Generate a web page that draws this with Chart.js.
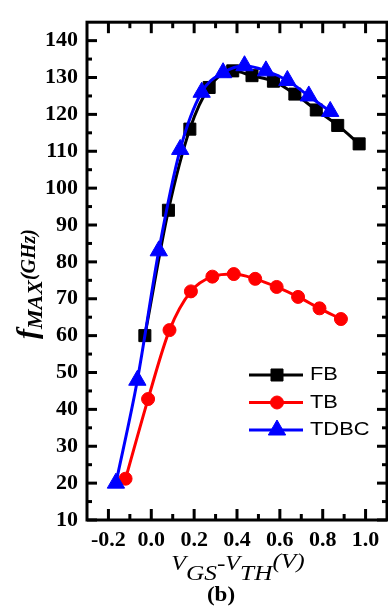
<!DOCTYPE html>
<html>
<head>
<meta charset="utf-8">
<script src="https://cdn.jsdelivr.net/npm/chart.js@4.4.1/dist/chart.umd.min.js"></script>
<style>
html, body { margin: 0; padding: 0; background: #fff; overflow: hidden; }
#wrap { position: relative; width: 398px; height: 607px; }
</style>
</head>
<body>
<div id="wrap"><canvas id="fmaxChart"></canvas></div>
<script>
// values
const seriesNames = ['FB', 'TB', 'TDBC'];
const fbX = [-0.03, 0.08, 0.18, 0.27, 0.38, 0.47, 0.57, 0.67, 0.77, 0.87, 0.97];
const fbY = [60, 94, 116, 127.3, 131.8, 130.5, 129, 125.5, 121.2, 117, 112];
const tbX = [-0.12, -0.015, 0.085, 0.185, 0.285, 0.385, 0.485, 0.585, 0.685, 0.785, 0.885];
const tbY = [21.2, 42.8, 61.5, 72, 76, 76.7, 75.4, 73.2, 70.5, 67.4, 64.5];
const tdbcX = [-0.165, -0.065, 0.035, 0.135, 0.235, 0.335, 0.435, 0.535, 0.635, 0.735, 0.835];
const tdbcY = [20, 47.9, 83, 110.5, 126, 131.3, 133.2, 131.8, 129.2, 125, 120.8];

const xTicks = [-0.2, 0.0, 0.2, 0.4, 0.6, 0.8, 1.0];
const xMinorTicks = [-0.1, 0.1, 0.3, 0.5, 0.7, 0.9];
const yTicks = [10, 20, 30, 40, 50, 60, 70, 80, 90, 100, 110, 120, 130, 140];
const yMinorTicks = [15, 25, 35, 45, 55, 65, 75, 85, 95, 105, 115, 125, 135];

const colors = ['#000000', '#ff0000', '#0000ff'];
const styles = ['rect', 'circle', 'triangle'];
const radii = [8.5, 6.5, 10];

const serif = '"Liberation Serif", "Times New Roman", serif';
const sans = '"Liberation Sans", Arial, sans-serif';

function toPoints(xs, ys) {
    return xs.map((x, i) => ({ x: x, y: ys[i] }));
}

// draws pieces of text side by side, centred on x0
function drawRuns(ctx, runs, x0, y0) {
    let total = 0;
    runs.forEach(r => { ctx.font = r[1]; total += ctx.measureText(r[0]).width; });
    let x = x0 - total / 2;
    runs.forEach(r => {
        ctx.font = r[1];
        ctx.fillText(r[0], x, y0 + r[2]);
        x += ctx.measureText(r[0]).width;
    });
}

const framePlugin = {
    id: 'frame',
    afterDatasetsDraw(chart) {
        const { ctx, chartArea: a, scales: { x, y } } = chart;
        ctx.save();
        ctx.strokeStyle = '#000';
        ctx.lineWidth = 3;
        ctx.strokeRect(a.left, a.top, a.right - a.left, a.bottom - a.top);

        const seg = (x1, y1, x2, y2) => {
            ctx.beginPath();
            ctx.moveTo(x1, y1);
            ctx.lineTo(x2, y2);
            ctx.stroke();
        };
        const xMark = (v, len) => {
            const px = x.getPixelForValue(v);
            seg(px, a.bottom, px, a.bottom - len);
            seg(px, a.top, px, a.top + len);
        };
        const yMark = (v, len) => {
            const py = y.getPixelForValue(v);
            seg(a.left, py, a.left + len, py);
            seg(a.right, py, a.right - len, py);
        };
        xTicks.forEach(v => xMark(v, 11));
        xMinorTicks.forEach(v => xMark(v, 6));
        yTicks.forEach(v => yMark(v, 10));
        yMinorTicks.forEach(v => yMark(v, 5));
        ctx.restore();
    },
    afterDraw(chart) {
        const ctx = chart.ctx;
        ctx.save();
        ctx.fillStyle = '#000';
        ctx.textBaseline = 'alphabetic';

        // y axis title, rotated
        ctx.save();
        ctx.translate(0, 284);
        ctx.rotate(-Math.PI / 2);
        drawRuns(ctx, [
            ['f', 'italic bold 30px ' + serif, 37],
            ['MAX', 'italic bold 22px ' + serif, 42],
            ['(GHz)', 'italic bold 20px ' + serif, 35]
        ], 0, 0);
        ctx.restore();

        // x axis title
        ctx.save();
        ctx.translate(238, 0);
        ctx.scale(1.15, 1);
        drawRuns(ctx, [
            ['V', 'italic 21px ' + serif, 570],
            ['GS', 'italic 22px ' + serif, 580],
            ['-', 'italic 22px ' + serif, 570],
            ['V', 'italic 21px ' + serif, 570],
            ['TH', 'italic 22px ' + serif, 580],
            ['(V)', 'italic 22px ' + serif, 568]
        ], 0, 0);
        ctx.restore();

        ctx.save();
        ctx.translate(221, 0);
        ctx.scale(1.15, 1);
        drawRuns(ctx, [['(b)', 'bold 20px ' + serif, 601]], 0, 0);
        ctx.restore();

        // legend
        const rowY = [375, 402.5, 430];
        seriesNames.forEach((name, i) => {
            ctx.strokeStyle = colors[i];
            ctx.fillStyle = colors[i];
            ctx.lineWidth = 3;
            ctx.beginPath();
            ctx.moveTo(249, rowY[i]);
            ctx.lineTo(303, rowY[i]);
            ctx.stroke();
            ctx.lineWidth = 1;
            Chart.helpers.drawPoint(ctx, {
                pointStyle: styles[i], radius: radii[i], rotation: 0, borderWidth: 1
            }, 277, rowY[i]);
            ctx.save();
            ctx.fillStyle = '#000';
            ctx.translate(310, rowY[i] + 5);
            ctx.scale(1.15, 1);
            ctx.font = '19px ' + sans;
            ctx.textAlign = 'left';
            ctx.fillText(name, 0, 0);
            ctx.restore();
        });
        ctx.restore();
    }
};

const ctx = document.getElementById('fmaxChart').getContext('2d');
const allX = [fbX, tbX, tdbcX];
const allY = [fbY, tbY, tdbcY];
const drawOrder = [1, 2, 0];

const chart = new Chart(ctx, {
    type: 'line',
    data: {
        datasets: seriesNames.map((name, i) => ({
            label: name,
            data: toPoints(allX[i], allY[i]),
            borderColor: colors[i],
            backgroundColor: colors[i],
            borderWidth: 3,
            pointStyle: styles[i],
            pointRadius: radii[i],
            pointHoverRadius: radii[i],
            pointBorderWidth: 1,
            pointBorderColor: colors[i],
            pointBackgroundColor: colors[i],
            cubicInterpolationMode: 'monotone',
            fill: false,
            order: drawOrder[i]
        }))
    },
    options: {
        responsive: true,
        maintainAspectRatio: false,
        animation: false,
        layout: { padding: { top: 13, right: 3, left: 0, bottom: 0 } },
        plugins: {
            legend: { display: false },
            tooltip: { enabled: false }
        },
        scales: {
            x: {
                type: 'linear',
                min: -0.3,
                max: 1.1,
                afterBuildTicks: scale => { scale.ticks = xTicks.map(v => ({ value: v })); },
                afterFit: scale => { scale.height = 87; },
                grid: { display: false, drawTicks: false },
                border: { display: false },
                ticks: {
                    padding: 7,
                    color: '#000',
                    maxRotation: 0,
                    autoSkip: false,
                    font: { family: serif, size: 22, weight: 'bold' },
                    callback: v => v.toFixed(1)
                }
            },
            y: {
                type: 'linear',
                min: 10,
                max: 145,
                afterBuildTicks: scale => { scale.ticks = yTicks.map(v => ({ value: v })); },
                afterFit: scale => { scale.width = 87; },
                grid: { display: false, drawTicks: false },
                border: { display: false },
                ticks: {
                    padding: 9,
                    color: '#000',
                    autoSkip: false,
                    font: { family: serif, size: 22, weight: 'bold' }
                }
            }
        }
    },
    plugins: [framePlugin]
});
</script>
</body>
</html>
